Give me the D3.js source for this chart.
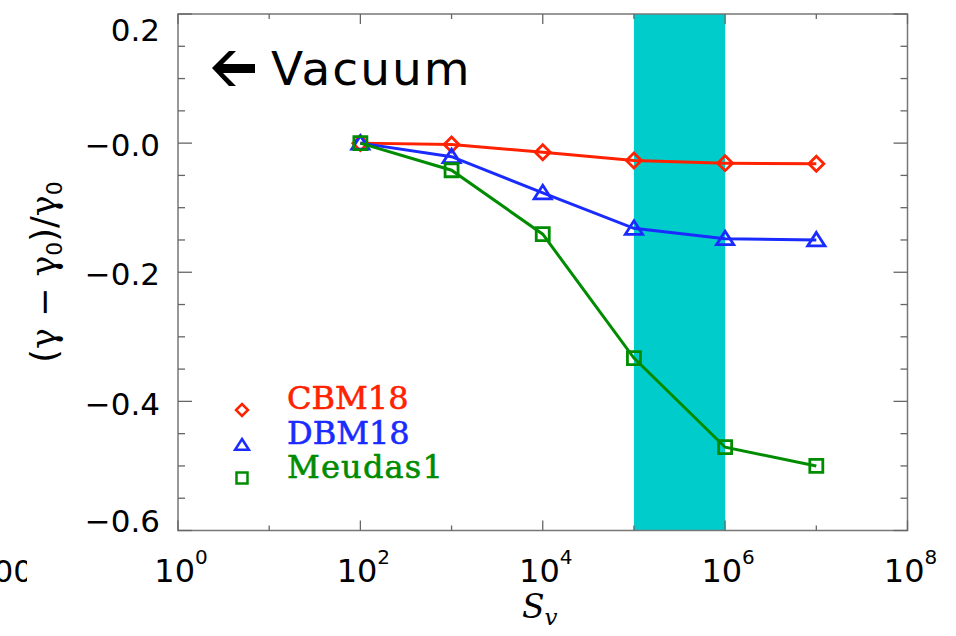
<!DOCTYPE html>
<html>
<head>
<meta charset="utf-8">
<script src="https://cdn.jsdelivr.net/npm/d3@7"></script>
<style>
  html, body { margin: 0; padding: 0; background: #fff; }
  svg { display: block; }
</style>
</head>
<body>
<svg id="chart" width="956" height="636"></svg>
<script>
// 数据
const sv = [1e2, 1e3, 1e4, 1e5, 1e6, 1e7];
const cbm18 = [0, -0.002, -0.014, -0.027, -0.031, -0.032];
const dbm18 = [0, -0.021, -0.077, -0.132, -0.148, -0.150];
const meudas1 = [0, -0.042, -0.141, -0.333, -0.471, -0.500];
const bandRange = [1e5, 1e6];
const xTickExps = [0, 2, 4, 6, 8];
const yTickVals = [0.2, 0, -0.2, -0.4, -0.6];
const yTickLabels = ["0.2", "\u22120.0", "\u22120.2", "\u22120.4", "\u22120.6"];

const series = [
  {name: "CBM18", values: cbm18, color: "#ff2200", symbol: "diamond"},
  {name: "DBM18", values: dbm18, color: "#1a2bff", symbol: "triangle"},
  {name: "Meudas1", values: meudas1, color: "#008c00", symbol: "square"}
];

const W = 956, H = 636;
const margin = {left: 178, top: 14, right: 48.5, bottom: 105.5};
const width = W - margin.left - margin.right;
const height = H - margin.top - margin.bottom;

const svg = d3.select("#chart");

// 左侧被截断的标签
svg.append("clipPath").attr("id", "edgeclip")
  .append("rect").attr("x", 0).attr("y", 540).attr("width", 27).attr("height", 60);
svg.append("text")
  .attr("clip-path", "url(#edgeclip)")
  .attr("x", 33).attr("y", 582)
  .attr("text-anchor", "end")
  .attr("font-family", "DejaVu Sans").attr("font-size", 31)
  .text("100");

const g = svg.append("g").attr("transform", `translate(${margin.left},${margin.top})`);

const x = d3.scaleLog().domain([1, 1e8]).range([0, width]);
const y = d3.scaleLinear().domain([-0.6, 0.2]).range([height, 0]);

// 青色区域
g.append("rect")
  .attr("x", x(bandRange[0]))
  .attr("y", 0)
  .attr("width", x(bandRange[1]) - x(bandRange[0]))
  .attr("height", height)
  .attr("fill", "#00cccc");

// 坐标框
g.append("rect")
  .attr("x", 0).attr("y", 0)
  .attr("width", width).attr("height", height)
  .attr("fill", "none")
  .attr("stroke", "#777")
  .attr("stroke-width", 1.5);

// x 刻度 (每个十倍程一个刻度，偶数次方为主刻度)
const xDecades = d3.range(0, 9);
xDecades.forEach(e => {
  const len = e % 2 === 0 ? 10 : 5;
  const xp = x(Math.pow(10, e));
  g.append("line").attr("x1", xp).attr("x2", xp).attr("y1", height).attr("y2", height - len)
    .attr("stroke", "#666").attr("stroke-width", 1.3);
  g.append("line").attr("x1", xp).attr("x2", xp).attr("y1", 0).attr("y2", len)
    .attr("stroke", "#666").attr("stroke-width", 1.3);
});

// y 刻度
const yMinor = d3.range(-0.6, 0.2001, 0.05);
yMinor.forEach(v => {
  const major = Math.abs(Math.round(v * 10) / 10 - v) < 1e-6 && Math.round(v * 10) % 2 === 0;
  const len = major ? 14 : 7;
  const yp = y(v);
  g.append("line").attr("x1", 0).attr("x2", len).attr("y1", yp).attr("y2", yp)
    .attr("stroke", "#666").attr("stroke-width", 1.3);
  g.append("line").attr("x1", width).attr("x2", width - len).attr("y1", yp).attr("y2", yp)
    .attr("stroke", "#666").attr("stroke-width", 1.3);
});

// y 刻度标签
yTickVals.forEach((v, i) => {
  const yp = Math.max(16, Math.min(height - 10, y(v) + 2));
  g.append("text")
    .attr("x", -18).attr("y", yp)
    .attr("dy", "0.36em")
    .attr("text-anchor", "end")
    .attr("font-family", "DejaVu Sans").attr("font-size", 31)
    .text(yTickLabels[i]);
});

// x 刻度标签
xTickExps.forEach(e => {
  const t = g.append("text")
    .attr("x", x(Math.pow(10, e)) + 3).attr("y", height + 51.5)
    .attr("text-anchor", "middle")
    .attr("font-family", "DejaVu Sans").attr("font-size", 32);
  t.append("tspan").text("10");
  t.append("tspan").attr("dy", -18).attr("font-size", 20).text(e);
});

// 轴标题
svg.append("text")
  .attr("transform", "translate(56,272) rotate(-90)")
  .attr("text-anchor", "middle")
  .attr("font-family", "DejaVu Sans").attr("font-size", 35)
  .call(t => {
    t.append("tspan").text("(");
    t.append("tspan").attr("font-family", "DejaVu Serif").text("\u03b3");
    t.append("tspan").text("  \u2212  ");
    t.append("tspan").attr("font-family", "DejaVu Serif").text("\u03b3");
    t.append("tspan").attr("font-size", 22).attr("dy", 6).text("0");
    t.append("tspan").attr("dy", -6).text(")/");
    t.append("tspan").attr("font-family", "DejaVu Serif").text("\u03b3");
    t.append("tspan").attr("font-size", 22).attr("dy", 6).text("0");
  });

svg.append("text")
  .attr("x", 522).attr("y", 618)
  .attr("font-family", "DejaVu Serif").attr("font-style", "italic").attr("font-size", 33)
  .call(t => {
    t.append("tspan").text("S");
    t.append("tspan").attr("font-size", 23).attr("dy", 7).text("v");
  });

// 标记符号
function symbolPath(type, s) {
  if (type === "diamond") {
    return `M0,${-s}L${s},0L0,${s}L${-s},0Z`;
  } else if (type === "triangle") {
    return `M0,${-s}L${s * 1.15},${s * 0.8}L${-s * 1.15},${s * 0.8}Z`;
  }
  return `M${-s},${-s}L${s},${-s}L${s},${s}L${-s},${s}Z`;
}

const line = d3.line()
  .x((d, i) => x(sv[i]))
  .y(d => y(d));

series.forEach(s => {
  g.append("path")
    .datum(s.values)
    .attr("d", line)
    .attr("fill", "none")
    .attr("stroke", s.color)
    .attr("stroke-width", 3);
  const size = s.symbol === "square" ? 6.5 : 7.5;
  g.selectAll(null)
    .data(s.values)
    .enter()
    .append("path")
    .attr("transform", (d, i) => `translate(${x(sv[i])},${y(d)})`)
    .attr("d", symbolPath(s.symbol, size))
    .attr("fill", "none")
    .attr("stroke", s.color)
    .attr("stroke-width", 2.8);
});

// 图例
const legendY = [410, 445, 478];
series.forEach((s, i) => {
  svg.append("path")
    .attr("transform", `translate(242,${legendY[i]})`)
    .attr("d", symbolPath(s.symbol, s.symbol === "square" ? 5.5 : 6))
    .attr("fill", "none")
    .attr("stroke", s.color)
    .attr("stroke-width", 2.5);
  svg.append("text")
    .attr("x", 287).attr("y", legendY[i] - 1 + (i === 2 ? 1 : 0))
    .attr("font-family", "DejaVu Serif").attr("font-size", 32)
    .attr("letter-spacing", i === 2 ? 1.2 : 0)
    .attr("fill", s.color)
    .attr("stroke", s.color).attr("stroke-width", 0.6)
    .text(s.name);
});

// Vacuum 注释
svg.append("path")
  .attr("d", "M212,68 L229,51 L236,51 L223,64 L255,64 L255,73 L223,73 L236,86 L229,86 Z")
  .attr("fill", "#000");
svg.append("text")
  .attr("x", 271).attr("y", 85)
  .attr("font-family", "DejaVu Sans").attr("font-size", 47)
  .attr("letter-spacing", 2)
  .text("Vacuum");
</script>
</body>
</html>
